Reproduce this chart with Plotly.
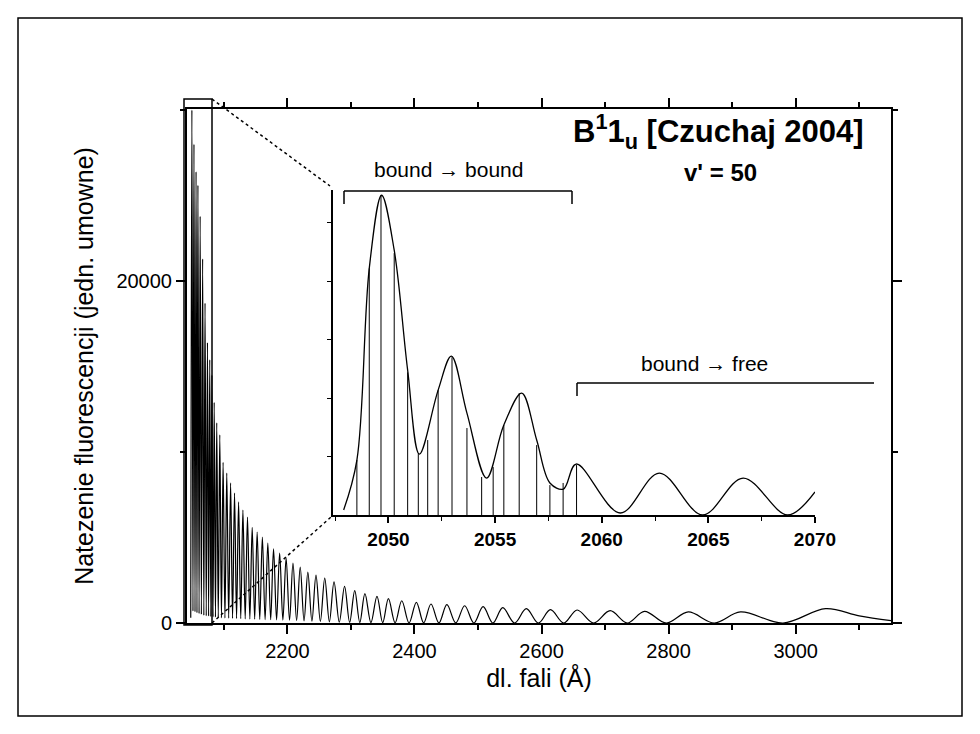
import plotly.graph_objects as go

# ---- main spectrum: maxima of the fluorescence curve (wavelength in Å) ----
peak_wl = [2049.7, 2052.95, 2056.25, 2059.2, 2062.7, 2066.6, 2070.4, 2074.2, 2077.8, 2081.2,
           2084.8, 2088.8, 2093.6, 2098.8, 2104.6, 2110.6, 2116.8, 2123.2, 2130.0, 2137.2,
           2144.6, 2152.4, 2160.6, 2169.2, 2178.2, 2187.8, 2198.0, 2208.8, 2220.2, 2232.2,
           2245.0, 2258.8, 2273.4, 2290, 2306, 2322, 2341, 2359, 2380, 2403,
           2426, 2451, 2479, 2508, 2539, 2576, 2614, 2656, 2708, 2762,
           2831, 2913, 3047]
peak_int = [30000, 28000, 26400, 25600, 23800, 21300, 18700, 16400, 15400, 14500,
            12900, 11700, 11000, 9400, 8770, 8190, 7600, 7080, 6600, 6200,
            5600, 5320, 5030, 4680, 4330, 4090, 3800, 3510, 3270, 2980,
            2800, 2630, 2400, 2145, 1890, 1715, 1560, 1420, 1300, 1210,
            1110, 1070, 1010, 955, 895, 835, 780, 760, 720, 685,
            645, 645, 840]

# minima between neighbouring maxima
trough_wl = [2051.4, 2054.6, 2057.7, 2061.0, 2064.6, 2068.5, 2072.3, 2076.0, 2079.5, 2083.0,
             2086.8, 2091.2, 2096.2, 2101.7, 2107.6, 2113.7, 2120.0, 2126.6, 2133.6, 2140.9,
             2148.5, 2156.5, 2164.9, 2173.7, 2183.0, 2192.9, 2203.4, 2214.5, 2226.2, 2238.6,
             2251.9, 2266.1, 2281.7, 2298, 2314, 2331.5, 2350, 2369.5, 2391.5, 2414.5,
             2438.5, 2465, 2493.5, 2523.5, 2557.5, 2595, 2635, 2682, 2735, 2796.5,
             2872, 2980]
trough_int = [700, 650, 600, 550, 500, 450, 420, 400, 380, 360,
              340, 320, 300, 290, 280, 270, 260, 250, 240, 230,
              220, 210, 200, 190, 180, 170, 160, 150, 130, 110,
              90, 70, 50, 40, 30, 25, 20, 15, 10, 10,
              5, 5, 0, 0, 0, 0, 0, 0, 0, 0,
              0, 0]

# ends of the curve
edge_wl = [2047.9, 3100, 3150]
edge_int = [300, 420, 140]

# ---- inset: envelope and bound-bound lines near v' = 50 ----
env_wl = [2047.9, 2048.52, 2049.10, 2049.68, 2050.27, 2050.90, 2051.45, 2052.33, 2052.95, 2053.68,
          2054.6, 2055.41, 2056.25, 2056.95, 2057.57, 2058.2, 2058.8, 2060.87, 2062.70, 2064.73,
          2066.63, 2068.71, 2070.0]
env_int = [430, 4700, 21100, 27350, 22650, 12390, 5210, 10680, 13590, 8720,
           3160, 7690, 10430, 6410, 2740, 2220, 4360, 170, 3590, 0,
           3160, 0, 1970]

stick_wl = [2048.52, 2049.10, 2049.65, 2050.27, 2050.90, 2051.40, 2051.84, 2052.33, 2052.98,
            2053.68, 2054.37, 2054.91, 2055.41, 2056.13, 2056.95, 2057.57, 2058.19, 2058.82]
stick_int = [4700, 21100, 27350, 22400, 12200, 5210, 6410, 10680, 13500,
             7440, 3250, 4100, 7690, 10430, 5980, 2560, 2740, 4270]

main_xtick_labels = ["2200", "2400", "2600", "2800", "3000"]
inset_xtick_labels = ["2050", "2055", "2060", "2065", "2070"]

FONT = "Arial, Liberation Sans, sans-serif"
W, H = 980, 734
L, R, T, B = 187, 891, 109, 623   # main plotting area in pixels


def px(x):
    return (x - L) / (R - L)


def py(y):
    return (B - y) / (B - T)


pts = sorted(zip(peak_wl + trough_wl + edge_wl, peak_int + trough_int + edge_int))
curve_x = [p[0] for p in pts]
curve_y = [p[1] for p in pts]

stick_x, stick_y = [], []
for w, h in zip(stick_wl, stick_int):
    stick_x += [w, w, None]
    stick_y += [0, h, None]

fig = go.Figure()
fig.add_trace(go.Scatter(x=curve_x, y=curve_y, mode="lines",
                         line=dict(color="black", width=1.2, shape="spline"),
                         hoverinfo="skip", showlegend=False))
fig.add_trace(go.Scatter(x=stick_x, y=stick_y, mode="lines", xaxis="x2", yaxis="y2",
                         line=dict(color="black", width=1), hoverinfo="skip", showlegend=False))
fig.add_trace(go.Scatter(x=env_wl, y=env_int, mode="lines", xaxis="x2", yaxis="y2",
                         line=dict(color="black", width=1.3, shape="spline"),
                         hoverinfo="skip", showlegend=False))

axis_common = dict(showline=True, linecolor="black", showgrid=False, zeroline=False,
                   ticks="outside", tickcolor="black")

fig.update_layout(
    width=W, height=H,
    margin=dict(l=L, r=W - R, t=T, b=H - B, autoexpand=False),
    paper_bgcolor="white", plot_bgcolor="rgba(0,0,0,0)",
    font=dict(family=FONT, color="black"),
    xaxis=dict(**axis_common, range=[2042, 3150], linewidth=2, mirror="allticks",
               tickvals=[int(t) for t in main_xtick_labels], ticktext=main_xtick_labels,
               ticklen=9, tickwidth=1.5,
               minor=dict(dtick=100, tick0=2000, ticklen=5, tickwidth=1.5, ticks="outside",
                          tickcolor="black"),
               tickfont=dict(size=20),
               title=dict(text="dl. fali (Å)", font=dict(size=25), standoff=8)),
    yaxis=dict(**axis_common, range=[0, 30060], linewidth=2, mirror="allticks",
               tickvals=[0, 20000], ticktext=["0", "20000"],
               ticklen=9, tickwidth=1.5,
               minor=dict(dtick=10000, tick0=0, ticklen=5, tickwidth=1.5, ticks="outside",
                          tickcolor="black"),
               tickfont=dict(size=20),
               title=dict(text="Natezenie fluorescencji (jedn. umowne)", font=dict(size=25),
                          standoff=16)),
    xaxis2=dict(**axis_common, domain=[px(333), px(815)], anchor="y2",
                range=[2047.4, 2070.0], linewidth=1.5,
                tickvals=[int(t) for t in inset_xtick_labels], ticktext=inset_xtick_labels,
                ticklen=6, tickwidth=1.5,
                minor=dict(dtick=2.5, tick0=2050, ticklen=4, tickwidth=1.2, ticks="outside",
                           tickcolor="black"),
                tickfont=dict(size=19, weight="bold")),
    yaxis2=dict(**axis_common, domain=[py(515), py(190)], anchor="x2",
                range=[0, 27800], linewidth=1.5,
                tickvals=[5000, 10000, 15000, 20000, 25000], showticklabels=False,
                ticklen=4, tickwidth=1.2),
)

shapes = []
# outer frame
shapes.append(dict(type="rect", xref="paper", yref="paper",
                   x0=px(18), x1=px(962), y0=py(716), y1=py(18),
                   line=dict(color="black", width=1.5)))
# zoomed region marker
shapes.append(dict(type="rect", xref="paper", yref="paper",
                   x0=px(184), x1=px(212), y0=py(625), y1=py(99),
                   line=dict(color="black", width=1.5)))
# dotted leaders to the inset
shapes.append(dict(type="line", xref="paper", yref="paper",
                   x0=px(212), y0=py(99), x1=px(330), y1=py(186),
                   line=dict(color="black", width=1.5, dash="dot")))
shapes.append(dict(type="line", xref="paper", yref="paper",
                   x0=px(212), y0=py(623), x1=px(331), y1=py(517),
                   line=dict(color="black", width=1.5, dash="dot")))
# brackets over the bound-bound and bound-free parts
for (x0, y0, x1, y1) in [(344, 191, 572, 191), (344, 191, 344, 204), (572, 191, 572, 204),
                         (577, 383, 874, 383), (577, 383, 577, 396)]:
    shapes.append(dict(type="line", xref="paper", yref="paper",
                       x0=px(x0), y0=py(y0), x1=px(x1), y1=py(y1),
                       line=dict(color="black", width=1.5)))
fig.update_layout(shapes=shapes)

annotations = [
    dict(text="bound \u2192 bound", x=px(448), y=py(169), font=dict(size=21)),
    dict(text="bound \u2192 free", x=px(704), y=py(363), font=dict(size=21)),
    dict(text="B<sup>1</sup>1<sub>u</sub> [Czuchaj 2004]", x=px(718), y=py(132),
         font=dict(size=31, weight="bold")),
    dict(text="v' = 50", x=px(720), y=py(172), font=dict(size=24, weight="bold")),
]
for a in annotations:
    a.update(xref="paper", yref="paper", showarrow=False, xanchor="center", yanchor="middle")
fig.update_layout(annotations=annotations)

fig.write_html("out.html")
